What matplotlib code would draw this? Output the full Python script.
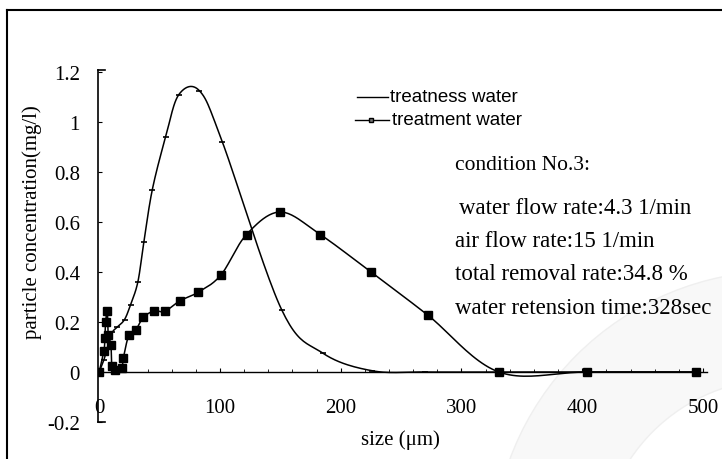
import numpy as np
import matplotlib
matplotlib.use("Agg")
import matplotlib.pyplot as plt
from matplotlib.lines import Line2D
from matplotlib.patches import Wedge
from matplotlib.transforms import IdentityTransform

# ---- data ----
x_treatness = [0, 4, 8, 11, 15, 21, 26, 32, 37, 44, 55, 66, 83, 102, 151, 185, 226, 270, 331, 404, 494]
y_treatness = [0, 0.05, 0.12, 0.16, 0.18, 0.21, 0.27, 0.36, 0.52, 0.73, 0.94, 1.11, 1.125, 0.92, 0.25, 0.076, 0.005, 0, 0, 0, 0]

x_treatment = [0, 3.9, 4.7, 5.3, 6.7, 7.5, 9.7, 10.5, 13, 18.6, 20, 24.6, 30.4, 36.5, 45.6, 54.4, 66.9, 82, 100.8, 122, 150, 183, 225, 272, 331, 404, 494]
y_treatment = [0, 0.084, 0.136, 0.20, 0.244, 0.15, 0.108, 0.024, 0.008, 0.016, 0.056, 0.148, 0.169, 0.219, 0.244, 0.243, 0.285, 0.319, 0.388, 0.55, 0.64, 0.55, 0.40, 0.228, 0, 0, 0]

x_ticks = [0, 100, 200, 300, 400, 500]
y_ticks = [-0.2, 0, 0.2, 0.4, 0.6, 0.8, 1, 1.2]
y_tick_labels = ["-0.2", "0", "0.2", "0.4", "0.6", "0.8", "1", "1.2"]

series_names = ["treatness water", "treatment water"]
info_lines = ["condition No.3:", "water flow rate:4.3 1/min", "air flow rate:15 1/min",
              "total removal rate:34.8 %", "water retension time:328sec"]

SERIF = ["Liberation Serif", "DejaVu Serif"]
SANS = ["Liberation Sans Narrow", "Liberation Sans", "DejaVu Sans"]


def smooth(ax, xs, ys, n=24):
    """Excel-like smoothed line: Bezier through the points, built in display space."""
    pts = ax.transData.transform(np.column_stack([xs, ys]))
    m = len(pts)
    out = [pts[0]]
    t = np.linspace(0, 1, n)[1:, None]
    for i in range(m - 1):
        p0 = pts[i]
        p3 = pts[i + 1]
        pm = pts[i - 1] if i > 0 else pts[i]
        pp = pts[i + 2] if i + 2 < m else pts[i + 1]
        c1 = p0 + (p3 - pm) / 6.0
        c2 = p3 - (pp - p0) / 6.0
        seg = ((1 - t) ** 3) * p0 + 3 * ((1 - t) ** 2) * t * c1 + 3 * (1 - t) * t ** 2 * c2 + t ** 3 * p3
        out.extend(seg)
    return ax.transData.inverted().transform(np.array(out))


fig = plt.figure(figsize=(7.22, 4.60), dpi=100)
W, H = 722.0, 460.0
x0_px, x1_px = 98.0, 706.6
y_top_px, y_bot_px = 70.5, 423.0
ax = fig.add_axes([x0_px / W, (H - y_bot_px) / H, (x1_px - x0_px) / W, (y_bot_px - y_top_px) / H])
ax.set_xlim(-1, 503)
ax.set_ylim(-0.2, 1.21)
ax.patch.set_alpha(0)

# very faint watermark band behind everything
fig.patches.append(Wedge((780, H - 560), 288, 90, 180, width=108, transform=IdentityTransform(),
                         facecolor="#f8f8f8", edgecolor="#efefef", lw=1.0, zorder=-5))

# lines
sx, sy = smooth(ax, x_treatness, y_treatness).T
ax.plot(sx, sy, color="black", lw=1.1, zorder=3)
ax.plot(x_treatness, y_treatness, ls="none", marker="_", ms=4, mew=1.2, color="black", zorder=3)

tx, ty = smooth(ax, x_treatment, y_treatment).T
ax.plot(tx, ty, color="black", lw=1.1, zorder=3)
ax.plot(x_treatment, y_treatment, ls="none", marker="s", ms=6.3, color="black", zorder=4)

# spines and ticks
ax.spines["top"].set_visible(False)
ax.spines["right"].set_visible(False)
ax.spines["bottom"].set_position(("data", 0))
ax.spines["bottom"].set_bounds(0, 503)
ax.spines["bottom"].set_linewidth(1.0)
ax.spines["left"].set_linewidth(1.2)

ax.set_xticks(x_ticks)
ax.set_xticklabels([str(v) for v in x_ticks], fontfamily=SERIF, fontsize=15)
ax.set_xticks(np.arange(0, 501, 20), minor=True)
ax.tick_params(axis="x", which="major", direction="in", length=3, width=0.8, pad=18.5)
ax.tick_params(axis="x", which="minor", direction="in", length=2, width=0.6)

ax.set_yticks(y_ticks)
ax.set_yticklabels(y_tick_labels, fontfamily=SERIF, fontsize=15)
ax.tick_params(axis="y", which="major", direction="in", length=3, width=0.8, pad=13)

# end caps of the y axis
for yy in (0.0, 1.0):
    ax.add_line(Line2D([0, 0.011], [yy, yy], transform=ax.transAxes, color="black", lw=1.2, clip_on=False))

ax.set_xlabel("size (\u03bcm)", fontfamily=SERIF, fontsize=15)
ax.xaxis.set_label_coords((400 - x0_px) / (x1_px - x0_px), -0.02)
ax.set_ylabel("particle concentration(mg/l)", fontfamily=SERIF, fontsize=15)
ax.yaxis.set_label_coords(-(x0_px - 42) / (x1_px - x0_px), (y_bot_px - 222) / (y_bot_px - y_top_px))


def fx(px):
    return px / W


def fy(py):
    return 1 - py / H


# legend (hand-placed)
fig.add_artist(Line2D([fx(357), fx(388)], [fy(98), fy(98)], transform=fig.transFigure, color="black", lw=1.0))
fig.text(fx(390), fy(98), series_names[0], fontfamily=SANS, fontsize=13.5, va="center", ha="left")
fig.add_artist(Line2D([fx(355), fx(389)], [fy(121), fy(121)], transform=fig.transFigure, color="black", lw=1.0))
fig.add_artist(Line2D([fx(371)], [fy(121)], transform=fig.transFigure, color="black", marker="s", ms=3.5,
                      mfc="#777777", mec="black", ls="none"))
fig.text(fx(392), fy(121), series_names[1], fontfamily=SANS, fontsize=13.5, va="center", ha="left")

# condition text block
info_pos = [(455, 165), (459, 208), (455, 242), (455, 275), (455, 309)]
info_size = [15.5, 16.5, 16.5, 16.5, 16.5]
for (px, py), s, fs in zip(info_pos, info_lines, info_size):
    fig.text(fx(px), fy(py), s, fontfamily=SERIF, fontsize=fs, va="center", ha="left")

# outer frame (top and left edges)
fig.add_artist(Line2D([fx(7), fx(722)], [fy(11), fy(11)], transform=fig.transFigure, color="black", lw=1.5))
fig.add_artist(Line2D([fx(7), fx(7)], [fy(11), fy(460)], transform=fig.transFigure, color="black", lw=1.5))

fig.savefig("out.png", dpi=100)
